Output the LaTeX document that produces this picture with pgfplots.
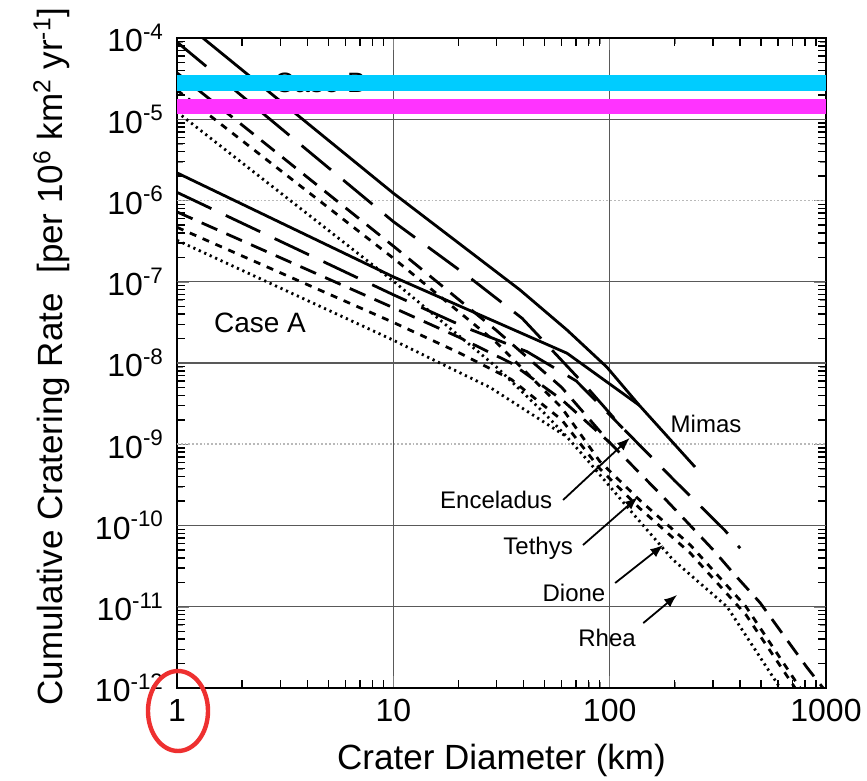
\documentclass[border=0pt]{standalone}
\usepackage{fontspec}
\setmainfont{Liberation Sans}
\usepackage{pgfplots}
\pgfplotsset{compat=1.18}
\usetikzlibrary{arrows.meta}
\definecolor{bandcyan}{RGB}{0,204,255}
\definecolor{bandmag}{RGB}{255,51,255}
\definecolor{circred}{RGB}{238,48,48}
\pgfplotsset{
  mimas/.style={black, line width=1.4pt},
  encel/.style={black, line width=1.4pt, dash pattern=on 19pt off 8pt},
  tethys/.style={black, line width=1.4pt, dash pattern=on 8.5pt off 5pt},
  dione/.style={black, line width=1.4pt, dash pattern=on 3.5pt off 3.5pt},
  rhea/.style={black, line width=1.4pt, dash pattern=on 1.1pt off 1.9pt},
  hgrid/.style={gray!70!black, line width=0.6pt, forget plot},
  hgriddot/.style={gray!55, densely dotted, line width=0.9pt, forget plot},
}
\begin{document}
\begin{tikzpicture}
\begin{axis}[
  at={(0,0)}, anchor=south west,
  xmode=log, ymode=log,
  scale only axis, width=324.5pt, height=325pt,
  xmin=1, xmax=1000, ymin=1e-12, ymax=1e-4,
  no markers,
  xtick={1,10,100,1000}, xticklabels={1,10,100,1000},
  ytick={1e-12,1e-11,1e-10,1e-9,1e-8,1e-7,1e-6,1e-5,1e-4},
  yticklabels={10\textsuperscript{-12},10\textsuperscript{-11},10\textsuperscript{-10},10\textsuperscript{-9},10\textsuperscript{-8},10\textsuperscript{-7},10\textsuperscript{-6},10\textsuperscript{-5},10\textsuperscript{-4}},
  xmajorgrids=true, ymajorgrids=false,
  major grid style={gray!70!black, line width=0.6pt},
  axis line style={line width=1.1pt},
  major tick length=6pt,
  tick label style={font=\fontsize{16}{18}\selectfont},
  yticklabel style={xshift=-3pt},
  xticklabel style={yshift=-2pt},
  xlabel={Crater Diameter (km)},
  ylabel={Cumulative Cratering Rate\ \ [per 10\textsuperscript{6} km\textsuperscript{2} yr\textsuperscript{-1}]},
  label style={font=\fontsize{17.5}{20}\selectfont},
  xlabel style={at={(axis description cs:0.5,-0.111)}, anchor=center},
  ylabel style={at={(axis description cs:-0.193,0.51)}, anchor=center},
]
% horizontal grid lines
\addplot[hgrid] coordinates {(1,1e-11) (1000,1e-11)};
\addplot[hgrid] coordinates {(1,1e-10) (1000,1e-10)};
\addplot[hgriddot] coordinates {(1,1e-9) (1000,1e-9)};
\addplot[hgrid] coordinates {(1,1e-8) (1000,1e-8)};
\addplot[hgrid] coordinates {(1,1e-7) (1000,1e-7)};
\addplot[hgriddot] coordinates {(1,1e-6) (1000,1e-6)};
\addplot[hgrid] coordinates {(1,1e-5) (1000,1e-5)};
% minor ticks (axis decoration)
\pgfplotsinvokeforeach{2,3,4,5,6,7,8,9,20,30,40,50,60,70,80,90,200,300,400,500,600,700,800,900}{
  \draw[black, line width=0.7pt] (axis cs:#1,1e-12) -- ++(0pt,4pt);
  \draw[black, line width=0.7pt] (axis cs:#1,1e-4) -- ++(0pt,-4pt);
}
\pgfplotsinvokeforeach{2e-12,3e-12,4e-12,5e-12,6e-12,7e-12,8e-12,9e-12,
               2e-11,3e-11,4e-11,5e-11,6e-11,7e-11,8e-11,9e-11,
               2e-10,3e-10,4e-10,5e-10,6e-10,7e-10,8e-10,9e-10,
               2e-9,3e-9,4e-9,5e-9,6e-9,7e-9,8e-9,9e-9,
               2e-8,3e-8,4e-8,5e-8,6e-8,7e-8,8e-8,9e-8,
               2e-7,3e-7,4e-7,5e-7,6e-7,7e-7,8e-7,9e-7,
               2e-6,3e-6,4e-6,5e-6,6e-6,7e-6,8e-6,9e-6,
               2e-5,3e-5,4e-5,5e-5,6e-5,7e-5,8e-5,9e-5}{
  \draw[black, line width=0.7pt] (axis cs:1,#1) -- ++(4pt,0pt);
  \draw[black, line width=0.7pt] (axis cs:1000,#1) -- ++(-4pt,0pt);
}
% Mimas
\addplot[mimas] coordinates {(1,1.82e-4) (10,1.23e-6) (38.5,7.94e-8) (63.5,2.55e-8) (97,8.91e-9) (137,3.02e-9) (248,5.25e-10)};
\addplot[mimas] coordinates {(1,2.19e-6) (10,1.15e-7) (63.5,1.32e-8) (137,3.02e-9)};
% Enceladus
\addplot[encel] coordinates {(1,8.91e-5) (10,5.50e-7) (22.6,1.12e-7) (39.4,3.55e-8) (78.6,5.01e-9) (115,1.58e-9) (200,3.55e-10) (341,8.71e-11) (401,5.25e-11)};
\addplot[encel] coordinates {(1,1.26e-6) (10,6.92e-8) (21.9,2.69e-8) (41.5,1.38e-8) (70,6.03e-9) (115,1.58e-9)};
% Tethys
\addplot[tethys] coordinates {(1,3.72e-5) (10,2.75e-7) (30,2.51e-8) (60,5.01e-9) (100,1.05e-9) (177,2.24e-10) (228,1.10e-10) (301,5.01e-11) (380,2.45e-11) (496,1.12e-11) (661,3.89e-12) (818,1.78e-12) (970,1.0e-12) (1000,0.9e-12)};
\addplot[tethys] coordinates {(1,7.24e-7) (10,4.79e-8) (20,2.09e-8) (35,1.0e-8) (60,3.55e-9) (100,1.05e-9)};
% Dione
\addplot[dione] coordinates {(1,2.29e-5) (10,1.95e-7) (30,1.78e-8) (60,2.82e-9) (90,6.17e-10) (138,2.04e-10) (236,5.75e-11) (427,1.0e-11) (759,1.0e-12) (850,6.3e-13)};
\addplot[dione] coordinates {(1,4.68e-7) (10,3.16e-8) (20,1.35e-8) (35,6.31e-9) (60,2.0e-9) (90,5.01e-10) (138,1.62e-10) (236,4.57e-11) (427,7.94e-12) (720,1.0e-12) (800,6.3e-13)};
% Rhea
\addplot[rhea] coordinates {(1,1.23e-5) (10,1.02e-7) (30,8.91e-9) (50,2.40e-9) (63.5,1.23e-9) (78.6,6.46e-10) (124,1.55e-10) (196,3.80e-11) (349,1.0e-11) (614,1.0e-12) (700,5.6e-13)};
\addplot[rhea] coordinates {(1,3.24e-7) (10,1.91e-8) (16.4,1.0e-8) (28,5.01e-9) (63.5,1.23e-9)};
% labels
\node[font=\fontsize{14}{16}\selectfont] at (axis cs:4.58,2.8e-5) {Case B};
\node[font=\fontsize{14}{16}\selectfont] at (axis cs:2.42,3.1e-8) {Case A};
\node[font=\fontsize{12}{14}\selectfont] at (axis cs:279,1.8e-9) {Mimas};
\node[font=\fontsize{12}{14}\selectfont] at (axis cs:29.9,2.06e-10) {Enceladus};
\node[font=\fontsize{12}{14}\selectfont] at (axis cs:46.7,5.3e-11) {Tethys};
\node[font=\fontsize{12}{14}\selectfont] at (axis cs:68.4,1.5e-11) {Dione};
\node[font=\fontsize{12}{14}\selectfont] at (axis cs:97.3,4.1e-12) {Rhea};
\draw[-{Latex[length=6.5pt,width=5pt]}, line width=0.9pt] (axis cs:60.9,2.06e-10) -- (axis cs:124,1.2e-9);
\draw[-{Latex[length=6.5pt,width=5pt]}, line width=0.9pt] (axis cs:75.3,5.75e-11) -- (axis cs:135,2.24e-10);
\draw[-{Latex[length=6.5pt,width=5pt]}, line width=0.9pt] (axis cs:106,1.96e-11) -- (axis cs:177,5.75e-11);
\draw[-{Latex[length=6.5pt,width=5pt]}, line width=0.9pt] (axis cs:143,6.3e-12) -- (axis cs:205,1.4e-11);
% bands
\addplot[bandcyan, line width=8pt] coordinates {(1,2.79e-5) (1000,2.79e-5)};
\addplot[bandmag, line width=7.5pt] coordinates {(1,1.435e-5) (1000,1.435e-5)};
\end{axis}
\draw[circred, line width=2.2pt] (0.5pt,-11.5pt) ellipse [x radius=15pt, y radius=20pt];
\pgfresetboundingbox
\path[use as bounding box] (-88.5pt,-46.5pt) rectangle (345pt,344pt);
\end{tikzpicture}
\end{document}
